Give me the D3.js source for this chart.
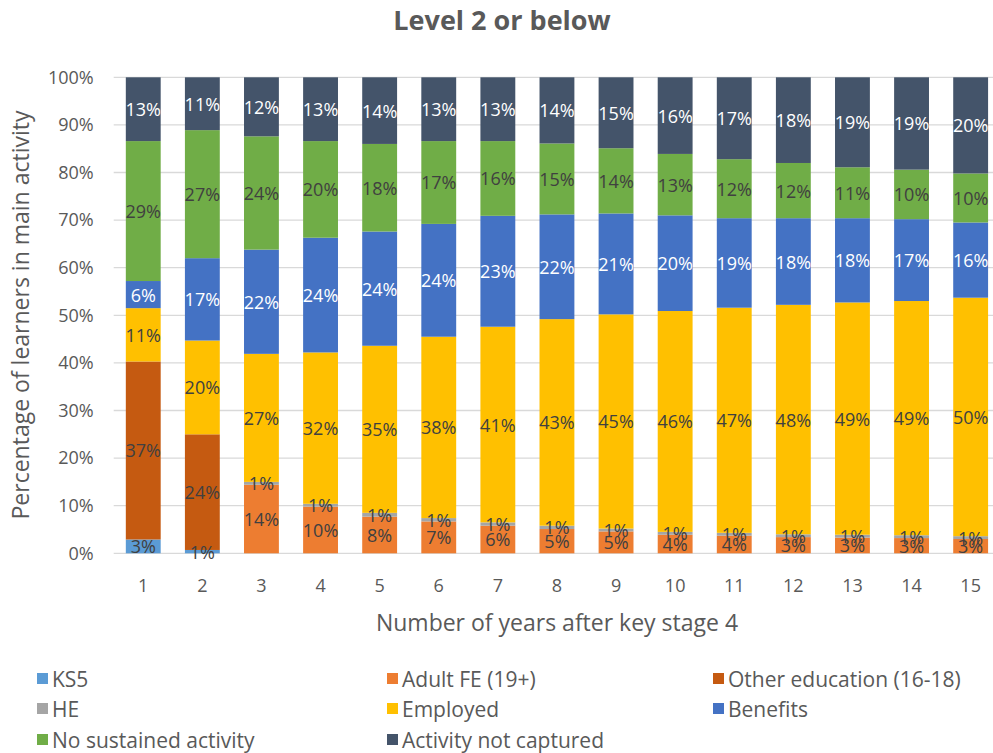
<!DOCTYPE html>
<html>
<head>
  <meta charset='utf-8'>
  <title>Level 2 or below</title>
  <script src='https://cdn.jsdelivr.net/npm/d3@7/dist/d3.min.js'></script>
  <style>
    body { margin: 0; background: #ffffff; }
    text { font-family: 'Open Sans', sans-serif; }
  </style>
</head>
<body>
  <svg id='plot-area' width='993' height='753'></svg>
  <script>
    // values, in percent
    const years = ['1', '2', '3', '4', '5', '6', '7', '8', '9', '10', '11', '12', '13', '14', '15'];
    const ks5 = [2.9, 0.7, 0, 0, 0, 0, 0, 0, 0, 0, 0, 0, 0, 0, 0];
    const adultFe = [0, 0, 14.4, 9.8, 7.7, 6.7, 5.8, 5.1, 4.6, 3.9, 3.7, 3.4, 3.3, 3.2, 3.0];
    const otherEducation = [37.4, 24.3, 0, 0, 0, 0, 0, 0, 0, 0, 0, 0, 0, 0, 0];
    const he = [0, 0, 0.6, 0.6, 0.8, 0.7, 0.7, 0.7, 0.6, 0.6, 0.6, 0.6, 0.6, 0.6, 0.6];
    const employed = [11.2, 19.7, 26.9, 31.8, 35.1, 38.1, 41.1, 43.4, 45.0, 46.4, 47.3, 48.2, 48.8, 49.2, 50.1];
    const benefits = [5.7, 17.3, 21.9, 24.1, 24.0, 23.7, 23.3, 22.0, 21.2, 20.1, 18.8, 18.2, 17.7, 17.2, 15.8];
    const noSustained = [29.4, 26.9, 23.8, 20.3, 18.4, 17.4, 15.7, 14.9, 13.7, 12.9, 12.4, 11.6, 10.7, 10.4, 10.3];
    const notCaptured = [13.4, 11.1, 12.4, 13.4, 14.0, 13.4, 13.4, 13.9, 14.9, 16.1, 17.2, 18.0, 18.9, 19.4, 20.2];
    const yTicks = [0, 10, 20, 30, 40, 50, 60, 70, 80, 90, 100];

    const series = [
        { key: 'ks5', name: 'KS5', values: ks5, color: '#5b9bd5', label: '#404040' },
        { key: 'adultFe', name: 'Adult FE (19+)', values: adultFe, color: '#ed7d31', label: '#404040' },
        { key: 'otherEducation', name: 'Other education (16-18)', values: otherEducation, color: '#c55a11', label: '#404040' },
        { key: 'he', name: 'HE', values: he, color: '#a5a5a5', label: '#404040' },
        { key: 'employed', name: 'Employed', values: employed, color: '#ffc000', label: '#404040' },
        { key: 'benefits', name: 'Benefits', values: benefits, color: '#4472c4', label: '#ffffff' },
        { key: 'noSustained', name: 'No sustained activity', values: noSustained, color: '#70ad47', label: '#404040' },
        { key: 'notCaptured', name: 'Activity not captured', values: notCaptured, color: '#44546a', label: '#ffffff' }
    ];

    const table = years.map((year, i) => {
        const row = { year: year };
        series.forEach((s) => { row[s.key] = s.values[i]; });
        return row;
    });

    const svg = d3.select('#plot-area');
    const scaleX = d3.scaleBand()
        .domain(years)
        .range([113.7, 1000.2])
        .paddingInner(0.41)
        .paddingOuter(0.205);
    const scaleY = d3.scaleLinear()
        .domain([0, 100])
        .range([553.3, 77.3]);

    // gridlines
    svg.append('g')
        .selectAll('line')
        .data(yTicks)
        .join('line')
        .attr('x1', 113.7)
        .attr('x2', 1000)
        .attr('y1', (d) => scaleY(d))
        .attr('y2', (d) => scaleY(d))
        .attr('stroke', '#d9d9d9')
        .attr('stroke-width', 1.3);

    // y axis
    const axisY = svg.append('g')
        .attr('transform', 'translate(113.7, 0)')
        .call(d3.axisLeft(scaleY).tickValues(yTicks).tickSize(0).tickPadding(20)
            .tickFormat((d) => d + '%'));
    axisY.select('.domain').remove();
    axisY.selectAll('text')
        .attr('fill', '#595959')
        .style('font-size', '18px');

    // x axis
    const axisX = svg.append('g')
        .attr('transform', 'translate(0, 553.3)')
        .call(d3.axisBottom(scaleX).tickSize(0).tickPadding(26));
    axisX.select('.domain').remove();
    axisX.selectAll('text')
        .attr('fill', '#595959')
        .style('font-size', '18px');

    const stack = d3.stack().keys(series.map((s) => s.key));
    const layers = stack(table);

    const groups = svg.append('g')
        .selectAll('g')
        .data(layers)
        .join('g')
        .attr('fill', (d, i) => series[i].color);

    groups.selectAll('rect')
        .data((d) => d)
        .join('rect')
        .attr('x', (d) => scaleX(d.data.year))
        .attr('width', scaleX.bandwidth())
        .attr('y', (d) => scaleY(d[1]))
        .attr('height', (d) => scaleY(d[0]) - scaleY(d[1]));

    // data labels, taken from the values themselves
    const fmt = d3.format('.0f');
    layers.forEach((layer, i) => {
        const key = series[i].key;
        svg.append('g')
            .selectAll('text')
            .data(layer.filter((d) => d.data[key] > 0))
            .join('text')
            .attr('x', (d) => scaleX(d.data.year) + scaleX.bandwidth() / 2)
            .attr('y', (d) => scaleY((d[0] + d[1]) / 2))
            .attr('text-anchor', 'middle')
            .attr('dominant-baseline', 'central')
            .attr('fill', series[i].label)
            .style('font-size', '18px')
            .text((d) => fmt(d.data[key]) + '%');
    });

    // titles
    svg.append('text')
        .attr('x', 502)
        .attr('y', 30)
        .attr('text-anchor', 'middle')
        .attr('fill', '#595959')
        .style('font-size', '27px')
        .style('font-weight', 'bold')
        .text('Level 2 or below');
    svg.append('text')
        .attr('x', 557)
        .attr('y', 631)
        .attr('text-anchor', 'middle')
        .attr('fill', '#595959')
        .style('font-size', '23px')
        .text('Number of years after key stage 4');
    svg.append('text')
        .attr('transform', 'translate(29, 315) rotate(-90)')
        .attr('text-anchor', 'middle')
        .attr('fill', '#595959')
        .style('font-size', '23px')
        .text('Percentage of learners in main activity');

    // legend, three columns
    const legendX = [37, 387, 713];
    const legendY = [679, 709, 740];
    const legend = svg.append('g')
        .selectAll('g')
        .data(series)
        .join('g')
        .attr('transform', (d, i) => `translate(${legendX[i % 3]}, ${legendY[Math.floor(i / 3)]})`);
    legend.append('rect')
        .attr('x', 0)
        .attr('y', -6)
        .attr('width', 11)
        .attr('height', 11)
        .attr('fill', (d) => d.color);
    legend.append('text')
        .attr('x', 15)
        .attr('y', 0)
        .attr('dominant-baseline', 'central')
        .attr('fill', '#595959')
        .style('font-size', '21px')
        .text((d) => d.name);
  </script>
</body>
</html>
